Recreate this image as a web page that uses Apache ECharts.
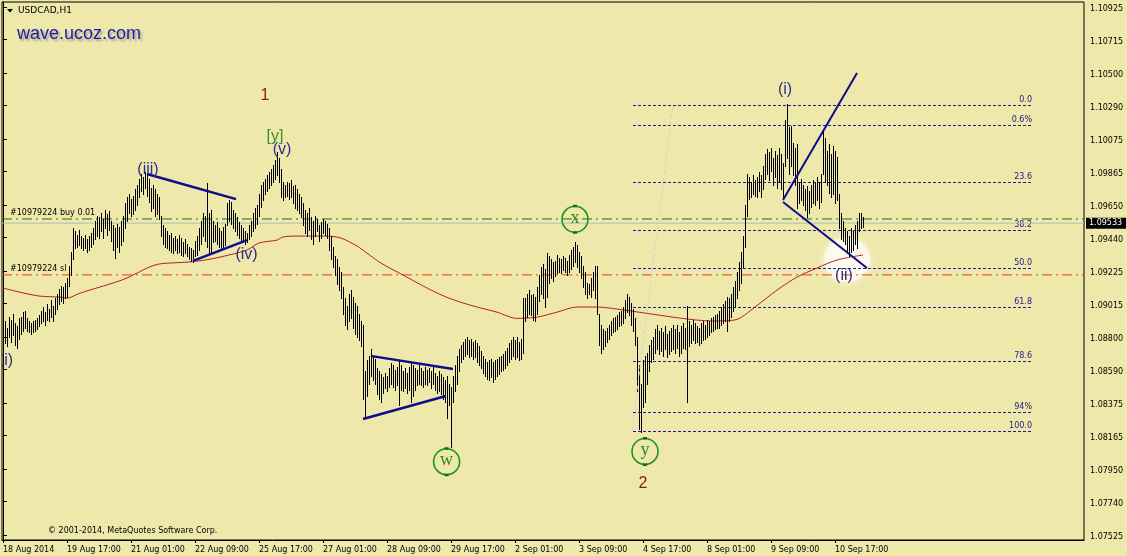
<!DOCTYPE html>
<html><head><meta charset="utf-8">
<script src="https://cdn.jsdelivr.net/npm/echarts@6.0.0/dist/echarts.min.js"></script>
<style>html,body{margin:0;padding:0;background:#EEE8AA;}#c{width:1127px;height:556px;}</style>
</head><body><div id="c"></div>
<script>
// ---- data ----
const timeLabels = ['18 Aug 2014','19 Aug 17:00','21 Aug 01:00','22 Aug 09:00','25 Aug 17:00','27 Aug 01:00','28 Aug 09:00','29 Aug 17:00','2 Sep 01:00','3 Sep 09:00','4 Sep 17:00','8 Sep 01:00','9 Sep 09:00','10 Sep 17:00'];
const priceTicks = [1.07525,1.0774,1.0795,1.08165,1.08375,1.0859,1.088,1.09015,1.09225,1.0944,1.0965,1.09865,1.10075,1.1029,1.105,1.10715,1.10925];
const highs = [
1.0888,1.0890,1.0886,1.0893,1.0891,1.0895,1.0889,1.0887,1.0892,1.0893,
1.0896,1.0897,1.0892,1.0890,1.0889,1.0890,1.0891,1.0892,1.0894,1.0897,
1.0899,1.0896,1.0901,1.0898,1.0904,1.0900,1.0905,1.0908,1.0911,1.0913,
1.0912,1.0915,1.0918,1.0926,1.0935,1.0950,1.0948,1.0946,1.0949,1.0945,
1.0944,1.0946,1.0943,1.0945,1.0947,1.0950,1.0955,1.0958,1.0957,1.0960,
1.0956,1.0962,1.0959,1.0961,1.0955,1.0952,1.0950,1.0953,1.0951,1.0955,
1.0958,1.0966,1.0970,1.0972,1.0969,1.0971,1.0975,1.0978,1.0982,1.0985,
1.0983,1.0986,1.0984,1.0982,1.0976,1.0978,1.0975,1.0972,1.0970,1.0958,
1.0952,1.0950,1.0948,1.0946,1.0947,1.0944,1.0945,1.0943,1.0946,1.0944,
1.0941,1.0943,1.0940,1.0938,1.0937,1.0936,1.0942,1.0945,1.0950,1.0955,
1.0960,1.0958,1.0979,1.0960,1.0962,1.0955,1.0952,1.0954,1.0950,1.0948,
1.0951,1.0953,1.0966,1.0968,1.0967,1.0962,1.0960,1.0957,1.0954,1.0952,
1.0950,1.0948,1.0947,1.0952,1.0955,1.0960,1.0963,1.0965,1.0972,1.0978,
1.0980,1.0982,1.0984,1.0986,1.0988,1.0991,1.0994,1.0999,1.0995,1.0988,
1.0980,1.0978,1.0980,1.0979,1.0981,1.0977,1.0978,1.0975,1.0972,1.0970,
1.0966,1.0962,1.0960,1.0963,1.0957,1.0955,1.0958,1.0956,1.0952,1.0954,
1.0956,1.0955,1.0953,1.0950,1.0945,1.0938,1.0932,1.0930,1.0925,1.0922,
1.0912,1.0905,1.0900,1.0908,1.0910,1.0906,1.0902,1.0900,1.0895,1.0890,
1.0888,1.0858,1.0865,1.0868,1.0872,1.0868,1.0866,1.0860,1.0858,1.0856,
1.0854,1.0857,1.0855,1.0860,1.0863,1.0862,1.0859,1.0861,1.0865,1.0862,
1.0858,1.0860,1.0857,1.0861,1.0864,1.0862,1.0860,1.0859,1.0862,1.0860,
1.0858,1.0861,1.0859,1.0860,1.0858,1.0862,1.0857,1.0855,1.0858,1.0856,
1.0854,1.0852,1.0855,1.0850,1.0848,1.0855,1.0862,1.0868,1.0872,1.0875,
1.0877,1.0879,1.0880,1.0878,1.0879,1.0877,1.0878,1.0876,1.0874,1.0871,
1.0868,1.0866,1.0864,1.0865,1.0866,1.0864,1.0865,1.0866,1.0867,1.0868,
1.0869,1.0871,1.0873,1.0876,1.0878,1.0880,1.0878,1.0880,1.0877,1.0879,
1.0905,1.0905,1.0908,1.0910,1.0907,1.0908,1.0906,1.0912,1.0920,1.0925,
1.0927,1.0924,1.0934,1.0932,1.0930,1.0928,1.0929,1.0933,1.0931,1.0930,
1.0932,1.0931,1.0929,1.0933,1.0936,1.0938,1.0941,1.0939,1.0935,1.0932,
1.0926,1.0922,1.0915,1.0914,1.0918,1.0922,1.0926,1.0926,1.0895,1.0888,
1.0885,1.0884,1.0886,1.0888,1.0890,1.0892,1.0893,1.0894,1.0896,1.0897,
1.0899,1.0904,1.0908,1.0906,1.0902,1.0898,1.0892,1.0880,1.0862,1.0850,
1.0865,1.0868,1.0870,1.0875,1.0878,1.0880,1.0885,1.0888,1.0884,1.0886,
1.0883,1.0887,1.0882,1.0884,1.0886,1.0888,1.0885,1.0888,1.0883,1.0887,
1.0889,1.0886,1.0900,1.0890,1.0888,1.0891,1.0889,1.0887,1.0886,1.0889,
1.0890,1.0888,1.0891,1.0890,1.0892,1.0893,1.0894,1.0895,1.0897,1.0899,
1.0901,1.0903,1.0906,1.0905,1.0908,1.0912,1.0916,1.0922,1.0928,1.0935,
1.0945,1.0965,1.0985,1.0983,1.0980,1.0984,1.0981,1.0983,1.0986,1.0984,
1.0990,1.0998,1.1001,1.0999,1.1002,1.0995,1.1000,1.0997,1.1002,1.0998,
1.0992,1.1020,1.1030,1.1015,1.1016,1.1005,1.1002,1.1004,1.0980,1.0982,
1.0978,1.0975,1.0977,1.0974,1.0978,1.0981,1.0979,1.0983,1.0980,1.0985,
1.1013,1.1008,1.1000,1.1004,1.0998,1.1003,1.1000,1.0996,1.0972,1.0960,
1.0955,1.0950,1.0948,1.0945,1.0950,1.0948,1.0952,1.0955,1.0960,1.0960,
1.0957];
const lows = [
1.0878,1.0876,1.0874,1.0880,1.0877,1.0881,1.0875,1.0873,1.0879,1.0882,
1.0884,1.0886,1.0884,1.0883,1.0882,1.0883,1.0884,1.0885,1.0887,1.0889,
1.0890,1.0888,1.0891,1.0890,1.0893,1.0890,1.0895,1.0898,1.0901,1.0903,
1.0902,1.0905,1.0906,1.0913,1.0920,1.0930,1.0937,1.0938,1.0939,1.0937,
1.0936,1.0937,1.0935,1.0936,1.0938,1.0940,1.0943,1.0945,1.0944,1.0948,
1.0944,1.0950,1.0946,1.0949,1.0942,1.0936,1.0931,1.0938,1.0935,1.0939,
1.0942,1.0950,1.0955,1.0960,1.0958,1.0959,1.0962,1.0965,1.0970,1.0974,
1.0972,1.0976,1.0971,1.0967,1.0961,1.0963,1.0958,1.0959,1.0956,1.0945,
1.0940,1.0938,1.0937,1.0936,1.0935,1.0934,1.0936,1.0934,1.0935,1.0933,
1.0932,1.0934,1.0932,1.0930,1.0929,1.0928,1.0932,1.0933,1.0936,1.0940,
1.0945,1.0942,1.0938,1.0934,1.0934,1.0941,1.0942,1.0940,1.0938,1.0936,
1.0937,1.0939,1.0952,1.0955,1.0953,1.0950,1.0948,1.0946,1.0944,1.0942,
1.0941,1.0940,1.0941,1.0943,1.0945,1.0948,1.0950,1.0953,1.0958,1.0964,
1.0968,1.0972,1.0974,1.0976,1.0978,1.0980,1.0982,1.0984,1.0980,1.0970,
1.0968,1.0970,1.0971,1.0969,1.0970,1.0966,1.0963,1.0962,1.0960,1.0957,
1.0952,1.0947,1.0945,1.0949,1.0943,1.0940,1.0945,1.0948,1.0942,1.0944,
1.0947,1.0946,1.0944,1.0936,1.0930,1.0925,1.0920,1.0914,1.0910,1.0905,
1.0895,1.0888,1.0885,1.0890,1.0892,1.0886,1.0882,1.0880,1.0878,1.0874,
1.0840,1.0828,1.0842,1.0850,1.0855,1.0852,1.0850,1.0843,1.0840,1.0838,
1.0844,1.0847,1.0845,1.0848,1.0850,1.0848,1.0846,1.0849,1.0836,1.0846,
1.0845,1.0847,1.0844,1.0846,1.0838,1.0842,1.0846,1.0849,1.0850,1.0849,
1.0848,1.0850,1.0849,1.0851,1.0847,1.0850,1.0846,1.0844,1.0845,1.0843,
1.0840,1.0838,1.0828,1.0836,1.0809,1.0838,1.0845,1.0850,1.0858,1.0864,
1.0866,1.0868,1.0869,1.0867,1.0868,1.0866,1.0867,1.0864,1.0862,1.0860,
1.0857,1.0855,1.0853,1.0852,1.0854,1.0851,1.0853,1.0855,1.0856,1.0858,
1.0859,1.0860,1.0862,1.0864,1.0866,1.0868,1.0866,1.0867,1.0865,1.0866,
1.0870,1.0890,1.0893,1.0895,1.0894,1.0891,1.0890,1.0895,1.0903,1.0908,
1.0905,1.0899,1.0906,1.0915,1.0918,1.0916,1.0919,1.0921,1.0922,1.0921,
1.0923,1.0922,1.0920,1.0922,1.0924,1.0926,1.0928,1.0925,1.0922,1.0918,
1.0912,1.0908,1.0905,1.0908,1.0906,1.0910,1.0905,1.0895,1.0875,1.0870,
1.0872,1.0874,1.0877,1.0879,1.0881,1.0883,1.0884,1.0885,1.0887,1.0888,
1.0889,1.0892,1.0896,1.0894,1.0888,1.0884,1.0875,1.0845,1.0821,1.0819,
1.0835,1.0838,1.0850,1.0858,1.0864,1.0866,1.0870,1.0872,1.0869,1.0871,
1.0868,1.0872,1.0867,1.0869,1.0871,1.0872,1.0870,1.0873,1.0868,1.0870,
1.0873,1.0872,1.0838,1.0874,1.0876,1.0878,1.0876,1.0877,1.0875,1.0876,
1.0878,1.0879,1.0880,1.0881,1.0883,1.0884,1.0885,1.0886,1.0886,1.0888,
1.0889,1.0890,1.0884,1.0890,1.0893,1.0897,1.0900,1.0905,1.0910,1.0915,
1.0925,1.0938,1.0958,1.0969,1.0970,1.0972,1.0971,1.0970,1.0974,1.0970,
1.0975,1.0982,1.0985,1.0981,1.0987,1.0978,1.0983,1.0976,1.0980,1.0975,
1.0970,1.0990,1.0995,1.0985,1.0990,1.0984,1.0978,1.0963,1.0966,1.0968,
1.0965,1.0962,1.0957,1.0960,1.0964,1.0966,1.0965,1.0968,1.0963,1.0967,
1.0985,1.0980,1.0978,1.0973,1.0970,1.0972,1.0966,1.0968,1.0950,1.0943,
1.0942,1.0940,1.0934,1.0932,1.0935,1.0936,1.0940,1.0937,1.0948,1.0950,
1.0951];
const maBars   = [0,8,18,28,32,38,48,58,63,68,73,78,83,93,103,113,122,128,137,140,148,151,158,162,169,177,182,189,200,213,223,235,247,257,267,277,287,297,307,321,342,355,366,376,387,397,407,417,430];
const maValues = [1.09115,1.0909,1.09064,1.09057,1.0905,1.0908,1.0912,1.0916,1.09186,1.09218,1.0925,1.0927,1.09276,1.09283,1.0930,1.09328,1.0936,1.09405,1.09424,1.09444,1.0945,1.0945,1.0945,1.0945,1.09437,1.09386,1.0934,1.09276,1.09199,1.09109,1.0905,1.0900,1.0896,1.0892,1.08928,1.0896,1.08993,1.08993,1.0898,1.08954,1.08916,1.08903,1.0891,1.08993,1.09102,1.09186,1.09244,1.09296,1.09328];
const bidPrice = 1.09533, buyPrice = 1.0956, slPrice = 1.0920;
const orderLinePrices = [buyPrice, slPrice, bidPrice];
const orderLineTexts  = ['#10979224 buy 0.01', '#10979224 sl', ''];
const fibPrices = [1.10294,1.10168,1.09798,1.09492,1.09244,1.08996,1.08643,1.0832,1.08194];
const fibNames  = ['0.0','0.6%','23.6','38.2','50.0','61.8','78.6','94%','100.0'];
const fibFromBar = 315, fibToBar = 514.5;
const trendLines = [[72,1.0985,116.5,1.09688],[95,1.0929,122,1.09424],[184.5,1.08677,225,1.08594],[180,1.08272,221.5,1.0842],[390,1.09682,427,1.1050],[390,1.09669,432,1.09244],[314.5,1.08194,335,1.10294]];
const waveText  = ['1','[y]','(v)','(iii)','(iv)','(i)','(ii)','(i)','2'];
const waveBar   = [131,136,139.5,72.5,121.75,391,420.5,1.5,320];
const wavePrice = [1.10352,1.10088,1.10007,1.09878,1.09331,1.10394,1.09196,1.08648,1.07853];
const waveKind  = ['cycle','primary','minute','minute','minute','minute','minute','minute','cycle'];
const circleText  = ['x','w','y'];
const circleBar   = [286,221.8,321];
const circlePrice = [1.09558,1.07997,1.08063];
const glowBar = 422, glowPrice = 1.09296;

// ---- styles ----
const UI_FONT = 'DejaVu Sans';
const waveColor = {cycle:'#8b1c1c', primary:'#3d8f28', minute:'#2e2e8e'};
const lineStyles = [
  {stroke:'#0c0c8c', lineWidth:2.5},{stroke:'#0c0c8c', lineWidth:2.5},
  {stroke:'#0c0c8c', lineWidth:2.5},{stroke:'#0c0c8c', lineWidth:2.5},
  {stroke:'#0c0c8c', lineWidth:2},{stroke:'#0c0c8c', lineWidth:2},
  {stroke:'#d2d2d2', lineWidth:1, lineDash:[4,3]}
];
const orderLineStyles = [
  {color:'#0c7a0c', width:1, type:[10,4,2,4]},
  {color:'#f03c0a', width:1, type:[10,4,2,4]},
  {color:'#b8b8b8', width:1, type:'solid'}
];

const nCats = 541;
const cats = Array.from({length:nCats}, (_, i) => String(i));
const showAt = (i) => i % 32 === 0 && i / 32 < timeLabels.length;

const orderLineSeries = orderLinePrices.map((p,k)=>({
  type:'line', xAxisIndex:1, z:3, silent:true, symbol:'none',
  data:[[-0.5,p],[nCats-0.5,p]], lineStyle:orderLineStyles[k]
}));

const chart = echarts.init(document.getElementById('c'));
chart.setOption({
  animation:false,
  backgroundColor:'#EEE8AA',
  grid:{left:2, top:2, right:43, bottom:16, show:true, borderColor:'#000', borderWidth:1, backgroundColor:'transparent'},
  xAxis:[
    {type:'category', data:cats, boundaryGap:true,
     axisLine:{show:true, lineStyle:{color:'#000', width:1}},
     axisTick:{show:true, alignWithLabel:true, interval:(i)=>showAt(i), length:3, lineStyle:{color:'#000'}},
     axisLabel:{interval:(i)=>showAt(i), formatter:(v,i)=>timeLabels[i/32]||'', align:'left', margin:6,
       color:'#000', fontSize:8, fontFamily:UI_FONT},
     splitLine:{show:false}},
    {type:'value', min:-0.5, max:nCats-0.5, show:false}
  ],
  yAxis:{type:'value', position:'right', min:1.07493, max:1.10957,
    axisLine:{show:true, lineStyle:{color:'#000'}},
    axisTick:{show:true, customValues:priceTicks, length:4, lineStyle:{color:'#000'}},
    axisLabel:{customValues:priceTicks, formatter:(v)=>'{p|' + v.toFixed(5) + '}', margin:6, color:'#000', fontSize:8, fontFamily:UI_FONT,
      rich:{p:{color:'#000', fontSize:8, fontFamily:UI_FONT, padding:[4,0,0,0]}}},
    splitLine:{show:false}},
  graphic:[
    {type:'polygon', shape:{points:[[7,9],[13,9],[10,12.5]]}, style:{fill:'#000'}},
    {type:'text', x:18, y:11, style:{text:'USDCAD,H1', fill:'#000', font:'9px "DejaVu Sans"', verticalAlign:'middle'}},
    {type:'text', x:17, y:34, style:{text:'wave.ucoz.com', fill:'#1c1ca0', font:'18px "Liberation Sans"', verticalAlign:'middle',
       textShadowColor:'rgba(80,80,150,0.45)', textShadowOffsetX:2, textShadowOffsetY:2, textShadowBlur:2}},
    {type:'text', x:48, y:531, style:{text:'© 2001-2014, MetaQuotes Software Corp.', fill:'#000', font:'8px "DejaVu Sans"', verticalAlign:'middle'}}
  ],
  series:[
    {type:'scatter', xAxisIndex:1, z:1, silent:true, symbol:'circle', symbolSize:[46,44],
     data:[[glowBar, glowPrice]],
     itemStyle:{color:'rgba(255,251,238,0.97)', shadowBlur:8, shadowColor:'rgba(255,255,255,1)'}},
    {type:'custom', name:'fib', xAxisIndex:1, z:2, silent:true,
     data:fibPrices.map((p,k)=>[fibFromBar,p,fibToBar,k]),
     encode:{x:[0,2], y:1},
     renderItem:(params, api)=>{
       const a = api.coord([api.value(0), api.value(1)]);
       const b = api.coord([api.value(2), api.value(1)]);
       const y = Math.round(a[1]) + 0.5;
       return {type:'group', children:[
         {type:'line', shape:{x1:a[0], y1:y, x2:b[0], y2:y}, style:{stroke:'#1a1a9a', lineWidth:1, lineDash:[3,2]}},
         {type:'text', x:b[0], y:y-1.5, style:{text:fibNames[api.value(3)], fill:'#1a1a8a', font:'8px "DejaVu Sans"', align:'right', verticalAlign:'bottom'}}
       ]};
     }},
    ...orderLineSeries,
    {type:'custom', name:'orderTexts', xAxisIndex:1, z:3, silent:true, clip:false,
     data:orderLinePrices.map((p,k)=>[-0.5,p,nCats-0.5,k]),
     encode:{x:[0,2], y:1},
     renderItem:(params, api)=>{
       const k = api.value(3);
       const a = api.coord([api.value(0), api.value(1)]);
       const b = api.coord([api.value(2), api.value(1)]);
       if (orderLineTexts[k]) {
         return {type:'text', x:a[0]+8, y:a[1]-2, style:{text:orderLineTexts[k], fill:'#000', font:'8px "DejaVu Sans"', align:'left', verticalAlign:'bottom'}};
       }
       return {type:'text', x:b[0]+2, y:b[1], z2:10, style:{text:api.value(1).toFixed(5), fill:'#fff', backgroundColor:'#000', padding:[2,4,1,3], font:'8px "DejaVu Sans"', align:'left', verticalAlign:'middle'}};
     }},
    {type:'line', name:'ma', xAxisIndex:1, z:4, silent:true, symbol:'none', smooth:0.3,
     data:maBars.map((b,k)=>[b, maValues[k]]),
     lineStyle:{color:'#b22222', width:1}},
    {type:'custom', name:'bars', xAxisIndex:1, z:5, silent:true,
     data:highs.map((h,i)=>[i,h,lows[i]]),
     encode:{x:0, y:[1,2]},
     renderItem:(params, api)=>{
       const hi = api.coord([api.value(0), api.value(1)]);
       const lo = api.coord([api.value(0), api.value(2)]);
       const x = Math.floor(hi[0] + 0.01) + 0.5;
       return {type:'line', shape:{x1:x, y1:Math.round(hi[1]), x2:x, y2:Math.round(lo[1]) + 1}, style:{stroke:'#000', lineWidth:1}};
     }},
    {type:'custom', name:'lines', xAxisIndex:1, z:6, silent:true, clip:true,
     data:trendLines.map((t,k)=>[t[0],t[1],t[2],t[3],k]),
     encode:{x:[0,2], y:[1,3]},
     renderItem:(params, api)=>{
       const a = api.coord([api.value(0), api.value(1)]);
       const b = api.coord([api.value(2), api.value(3)]);
       return {type:'line', shape:{x1:a[0], y1:a[1], x2:b[0], y2:b[1]}, style:Object.assign({}, lineStyles[api.value(4)])};
     }},
    {type:'custom', name:'circles', xAxisIndex:1, z:7, silent:true,
     data:circleText.map((t,k)=>[circleBar[k], circlePrice[k], k]),
     encode:{x:0, y:1},
     renderItem:(params, api)=>{
       const c = api.coord([api.value(0), api.value(1)]);
       return {type:'group', children:[
         {type:'circle', shape:{cx:c[0], cy:c[1], r:13}, style:{fill:'none', stroke:'#1f951f', lineWidth:1.6}},
         {type:'rect', shape:{x:c[0]-2, y:c[1]-14.5, width:4, height:2.5}, style:{fill:'#136e13'}},
         {type:'rect', shape:{x:c[0]-2, y:c[1]+12, width:4, height:2.5}, style:{fill:'#136e13'}},
         {type:'text', x:c[0], y:c[1]-1, style:{text:circleText[api.value(2)], fill:'#2a8a2a', font:'18px "Liberation Serif"', align:'center', verticalAlign:'middle'}}
       ]};
     }},
    {type:'custom', name:'waves', xAxisIndex:1, z:8, silent:true, clip:true,
     data:waveText.map((t,k)=>[waveBar[k], wavePrice[k], k]),
     encode:{x:0, y:1},
     renderItem:(params, api)=>{
       const k = api.value(2);
       const c = api.coord([api.value(0), api.value(1)]);
       return {type:'text', x:c[0], y:c[1], style:{text:waveText[k], fill:waveColor[waveKind[k]], font:'16px "Liberation Sans"', align:'center', verticalAlign:'middle'}};
     }}
  ]
});
</script></body></html>
